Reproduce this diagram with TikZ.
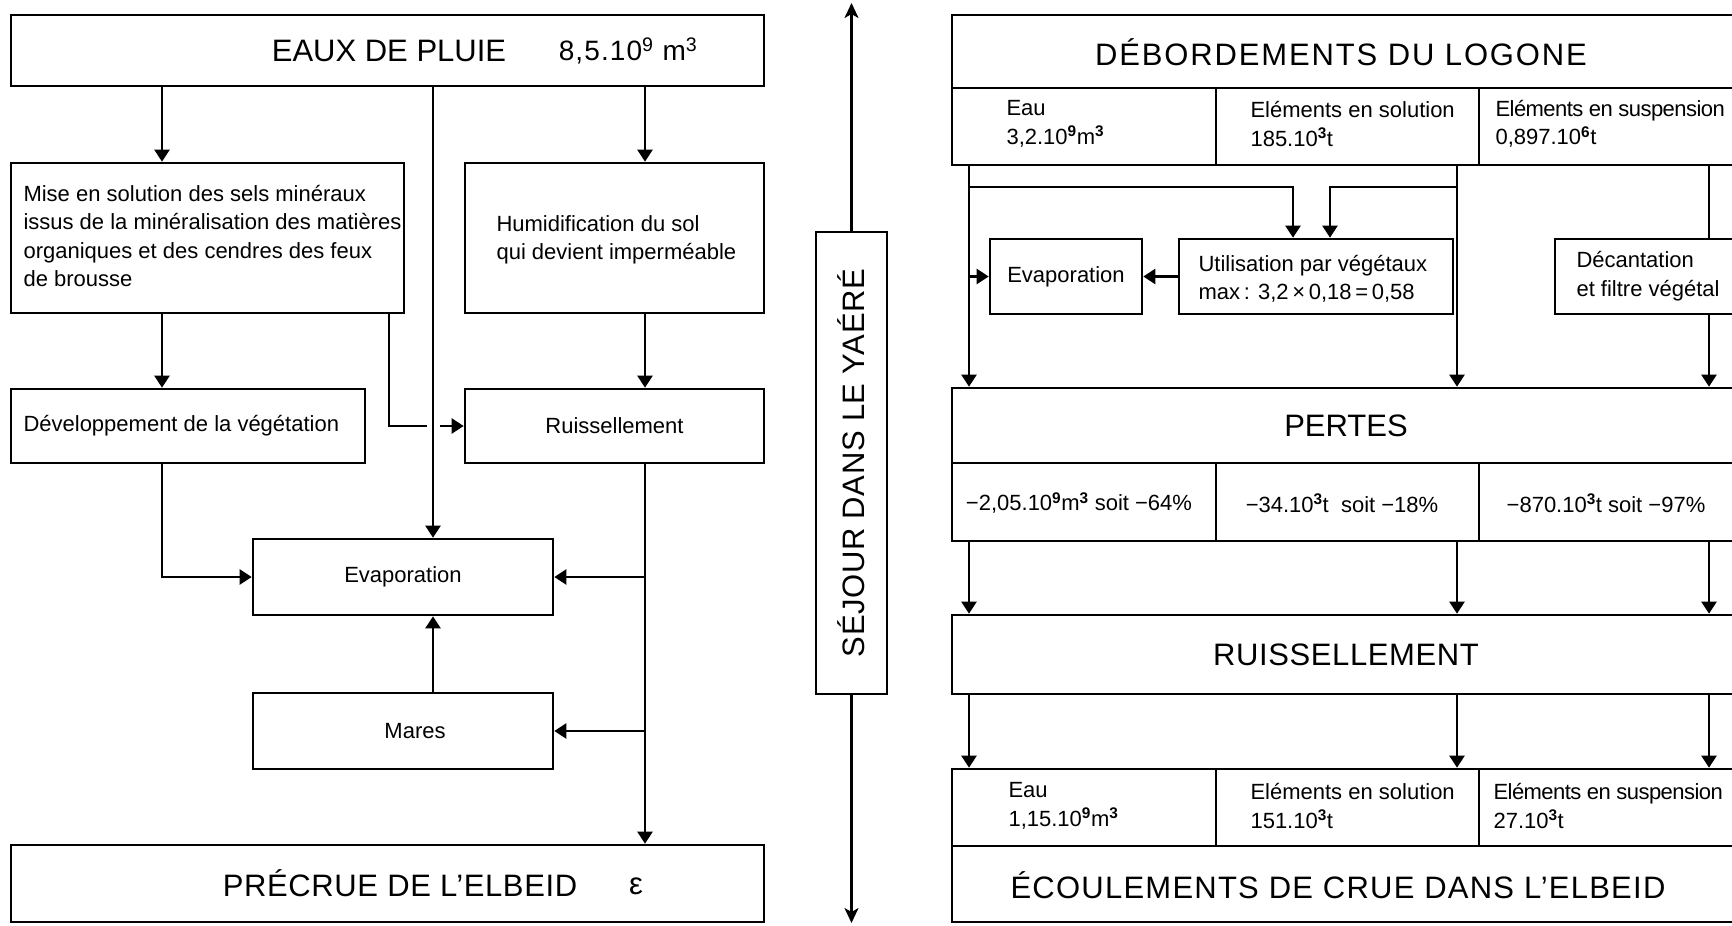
\documentclass[tikz,border=0pt]{standalone}
\usepackage{fontspec}
\setmainfont{Liberation Sans}
\usetikzlibrary{arrows.meta}
\newcommand{\sprm}[1]{\textsuperscript{\textbf{#1}}}
\begin{document}
\begin{tikzpicture}[x=1pt,y=-1pt,
  box/.style={draw, line width=2.6pt, rectangle, inner sep=0pt},
  con/.style={line width=2.2pt},
  arr/.style={con, -{Triangle[width=15pt,length=12pt]}},
  darr/.style={con, -{Stealth[width=14pt,length=15pt,inset=4pt]}},
  small/.style={font=\fontsize{22}{28.5}\selectfont},
  big/.style={font=\fontsize{31}{36}\selectfont},
]
\fill[white] (0,0) rectangle (1732,926);
\useasboundingbox (0,0) rectangle (1732,926);

% ---------------- left column ----------------
\coordinate (cA) at (162,0);
\coordinate (cB) at (433,0);
\coordinate (cC) at (645,0);
\coordinate (cD) at (389,0);
\coordinate (hopL) at (427,426);
\coordinate (hopR) at (440,426);

\node[box, minimum width=753pt, minimum height=71pt] (eaux) at (387.5,50.5) {};
\node[big] (eauxT) at (389,51) {EAUX DE PLUIE};
\node[font=\fontsize{28}{32}\selectfont] (eauxN) at (628,51) {\addfontfeature{LetterSpace=4}8,5.10\textsuperscript{9} m\textsuperscript{3}};

\node[box, minimum width=393pt, minimum height=150pt] (mise) at (207.5,238) {};
\node[small, anchor=west, align=left] (miseT) at (20,236) {Mise en solution des sels minéraux\\issus de la minéralisation des matières\\organiques et des cendres des feux\\de brousse};

\node[box, minimum width=299pt, minimum height=150pt] (humid) at (614.5,238) {};
\node[small, anchor=west, align=left] (humidT) at (493,240) {Humidification du sol\\qui devient imperméable};

\node[box, minimum width=354pt, minimum height=74pt] (devel) at (188,426) {};
\node[small, anchor=west] (develT) at (20,426) {Développement de la végétation};

\node[box, minimum width=299pt, minimum height=74pt, small] (ruiss) at (614.5,426) {Ruissellement};

\node[box, minimum width=300pt, minimum height=76pt, small] (evapL) at (403,577) {Evaporation};

\node[box, minimum width=300pt, minimum height=76pt] (mares) at (403,731) {};
\node[small] (maresT) at (415,731) {Mares};

\node[box, minimum width=753pt, minimum height=77pt] (precrue) at (387.5,883.5) {};
\node[big] (precrueT) at (400,883) {\addfontfeature{LetterSpace=2}PRÉCRUE DE L’ELBEID};
\node[big] (eps) at (636,886) {ε};

\draw[arr] (eaux.south -| cA) -- (mise.north -| cA);
\draw[arr] (eaux.south -| cB) -- (evapL.north -| cB);
\draw[arr] (eaux.south -| cC) -- (humid.north -| cC);
\draw[arr] (mise.south -| cA) -- (devel.north -| cA);
\draw[arr] (humid.south -| cC) -- (ruiss.north -| cC);
\draw[con] (mise.south -| cD) |- (hopL);
\draw[arr] (hopR) -- (ruiss.west);
\draw[arr] (devel.south -| cA) |- (evapL.west);
\draw[arr] (ruiss.south -| cC) -- (precrue.north -| cC);
\draw[arr] (cC |- evapL.east) -- (evapL.east);
\draw[arr] (cC |- mares.east) -- (mares.east);
\draw[arr] (mares.north -| cB) -- (evapL.south -| cB);

% ---------------- middle ----------------
\node[box, minimum width=71pt, minimum height=462pt] (sejour) at (851.5,463) {};
\node[big, rotate=90] (sejourT) at (851.5,463) {\addfontfeature{LetterSpace=2}SÉJOUR DANS LE YAÉRÉ};
\coordinate (midtop) at (851.5,3);
\coordinate (midbot) at (851.5,923);
\draw[darr] (sejour.north) -- (midtop);
\draw[darr] (sejour.south) -- (midbot);

% ---------------- right column ----------------
\coordinate (cR0) at (969,0);
\coordinate (cR1) at (1457,0);
\coordinate (cR2) at (1709,0);
\coordinate (cU1) at (1293,0);
\coordinate (cU2) at (1330,0);
\coordinate (hy) at (0,187);

\node[box, minimum width=788pt, minimum height=73pt] (deb) at (1346,51.5) {};
\node[big] (debT) at (1341,52) {\addfontfeature{LetterSpace=6}DÉBORDEMENTS DU LOGONE};

\node[box, minimum width=264pt, minimum height=77pt] (deb1) at (1084,126.5) {};
\node[box, minimum width=263pt, minimum height=77pt] (deb2) at (1347.5,126.5) {};
\node[box, minimum width=261pt, minimum height=77pt] (deb3) at (1609.5,126.5) {};
\node[small, anchor=west, align=left] (deb1T) at (1003,124) {Eau\\3,2.10\sprm{9}m\sprm{3}};
\node[small, anchor=west, align=left] (deb2T) at (1247,124) {Eléments en solution\\185.10\sprm{3}t};
\node[small, anchor=west, align=left] (deb3T) at (1492,124) {\addfontfeature{LetterSpace=-2.5}Eléments en suspension\\0,897.10\sprm{6}t};

\node[box, minimum width=152pt, minimum height=75pt, small] (evapR) at (1066,276.5) {Evaporation};
\node[box, minimum width=274pt, minimum height=75pt] (util) at (1316,276.5) {};
\node[small, anchor=west, align=left] (utilT) at (1195,279) {Utilisation par végétaux\\max\,: 3,2\,×\,0,18\,=\,0,58};
\node[box, minimum width=185pt, minimum height=75pt] (decant) at (1647.5,276.5) {};
\node[small, anchor=west, align=left] (decantT) at (1573,276) {Décantation\\et filtre végétal};

\node[box, minimum width=788pt, minimum height=75pt, big] (pertes) at (1346,425.5) {PERTES};
\node[box, minimum width=264pt, minimum height=78pt] (p1) at (1084,502) {};
\node[box, minimum width=263pt, minimum height=78pt] (p2) at (1347.5,502) {};
\node[box, minimum width=261pt, minimum height=78pt] (p3) at (1609.5,502) {};
\node[small] (p1T) at (1079,503) {−2,05.10\sprm{9}m\sprm{3} soit −64\%};
\node[small] (p2T) at (1342,503) {−34.10\sprm{3}t\ \ soit −18\%};
\node[small] (p3T) at (1606,503) {−870.10\sprm{3}t soit −97\%};

\node[box, minimum width=788pt, minimum height=79pt, big] (ruissR) at (1346,654.5) {\addfontfeature{LetterSpace=2}RUISSELLEMENT};

\node[box, minimum width=264pt, minimum height=77pt] (b1) at (1084,807.5) {};
\node[box, minimum width=263pt, minimum height=77pt] (b2) at (1347.5,807.5) {};
\node[box, minimum width=261pt, minimum height=77pt] (b3) at (1609.5,807.5) {};
\node[small, anchor=west, align=left] (b1T) at (1005,806) {Eau\\1,15.10\sprm{9}m\sprm{3}};
\node[small, anchor=west, align=left] (b2T) at (1247,806) {Eléments en solution\\151.10\sprm{3}t};
\node[small, anchor=west, align=left] (b3T) at (1490,806) {\addfontfeature{LetterSpace=-2.5}Eléments en suspension\\27.10\sprm{3}t};

\node[box, minimum width=788pt, minimum height=76pt] (ecoul) at (1346,884) {};
\node[big] (ecoulT) at (1338,885) {\addfontfeature{LetterSpace=4}ÉCOULEMENTS DE CRUE DANS L’ELBEID};

\draw[arr] (deb1.south -| cR0) -- (pertes.north -| cR0);
\draw[arr] (deb2.south -| cR1) -- (pertes.north -| cR1);
\draw[con] (deb3.south -| cR2) -- (decant.north -| cR2);
\draw[arr] (decant.south -| cR2) -- (pertes.north -| cR2);
\draw[arr] (hy -| cR0) -| (util.north -| cU1);
\draw[arr] (hy -| cR1) -| (util.north -| cU2);
\draw[arr] (util.west) -- (evapR.east);
\draw[arr] (evapR.west -| cR0) -- (evapR.west);
\draw[arr] (p1.south -| cR0) -- (ruissR.north -| cR0);
\draw[arr] (p2.south -| cR1) -- (ruissR.north -| cR1);
\draw[arr] (p3.south -| cR2) -- (ruissR.north -| cR2);
\draw[arr] (ruissR.south -| cR0) -- (b1.north -| cR0);
\draw[arr] (ruissR.south -| cR1) -- (b2.north -| cR1);
\draw[arr] (ruissR.south -| cR2) -- (b3.north -| cR2);
\end{tikzpicture}
\end{document}
